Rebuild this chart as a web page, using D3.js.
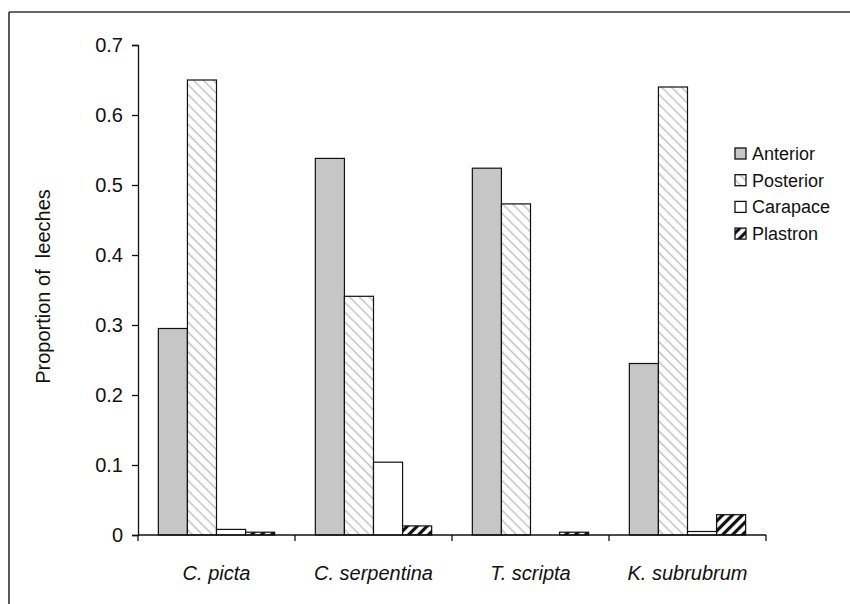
<!DOCTYPE html>
<html>
<head>
<meta charset="utf-8">
<script src="https://cdn.jsdelivr.net/npm/d3@7"></script>
<style>
  body { margin: 0; background: #fff; }
  text { font-family: "Liberation Sans", Arial, sans-serif; fill: #111; }
</style>
</head>
<body>
<svg id="chart" width="850" height="604"></svg>
<script>
// data
var species = ["C. picta", "C. serpentina", "T. scripta", "K. subrubrum"];
var regions = ["Anterior", "Posterior", "Carapace", "Plastron"];
var anterior = [0.295, 0.538, 0.524, 0.245];
var posterior = [0.65, 0.341, 0.473, 0.64];
var carapace = [0.008, 0.104, 0, 0.005];
var plastron = [0.004, 0.013, 0.004, 0.029];
var yTicks = [0, 0.1, 0.2, 0.3, 0.4, 0.5, 0.6, 0.7];

var series = [anterior, posterior, carapace, plastron];

var svg = d3.select("#chart");
var margin = { left: 138, right: 84, top: 45, bottom: 69 };
var W = 850, H = 604;

// frame (top + left lines only)
svg.append("line").attr("x1", 9).attr("x2", 850).attr("y1", 12).attr("y2", 12)
    .attr("stroke", "#333").attr("stroke-width", 1.5);
svg.append("line").attr("x1", 9).attr("x2", 9).attr("y1", 12).attr("y2", 604)
    .attr("stroke", "#222").attr("stroke-width", 1.5);

// patterns
var defs = svg.append("defs");
var hatch = defs.append("pattern").attr("id", "hatchPost")
    .attr("patternUnits", "userSpaceOnUse").attr("width", 7).attr("height", 7)
    .attr("patternTransform", "rotate(45)");
hatch.append("rect").attr("width", 7).attr("height", 7).attr("fill", "#fff");
hatch.append("line").attr("x1", 0).attr("x2", 7).attr("y1", 3.5).attr("y2", 3.5)
    .attr("stroke", "#bdbdbd").attr("stroke-width", 1.4);

var bold = defs.append("pattern").attr("id", "hatchPlas")
    .attr("patternUnits", "userSpaceOnUse").attr("width", 7).attr("height", 7)
    .attr("patternTransform", "rotate(-45)");
bold.append("rect").attr("width", 7).attr("height", 7).attr("fill", "#fff");
bold.append("line").attr("x1", 0).attr("x2", 7).attr("y1", 3.5).attr("y2", 3.5)
    .attr("stroke", "#111").attr("stroke-width", 3.2);

var fills = ["#c6c6c6", "url(#hatchPost)", "#ffffff", "url(#hatchPlas)"];

var x = d3.scaleBand().domain(species).range([margin.left, W - margin.right]).paddingInner(0).paddingOuter(0);
var xi = d3.scaleBand().domain(regions).range([0, x.bandwidth()]).paddingInner(0).paddingOuter(0.7);
var y = d3.scaleLinear().domain([0, 0.7]).range([H - margin.bottom, margin.top]);

// bars
species.forEach(function (sp, i) {
    var g = svg.append("g").attr("transform", "translate(" + x(sp) + ",0)");
    regions.forEach(function (r, k) {
        var v = series[k][i];
        if (v <= 0) return;
        g.append("rect")
            .attr("x", xi(r))
            .attr("y", y(v))
            .attr("width", xi.bandwidth())
            .attr("height", y(0) - y(v))
            .attr("fill", fills[k])
            .attr("stroke", "#111")
            .attr("stroke-width", 1.2);
    });
});

// y axis
var yAxis = svg.append("g").attr("transform", "translate(" + margin.left + ",0)")
    .call(d3.axisLeft(y).tickValues(yTicks).tickFormat(function (d) { return d === 0 ? "0" : d3.format(".1f")(d); })
        .tickSize(6).tickPadding(9));
yAxis.select(".domain").attr("stroke", "#111").attr("stroke-width", 1.3);
yAxis.selectAll(".tick line").attr("stroke", "#111").attr("stroke-width", 1.3);
yAxis.selectAll("text").style("font-size", "20px").attr("fill", "#111");

// x axis with ticks at category boundaries
var xAxis = svg.append("g").attr("transform", "translate(0," + y(0) + ")");
xAxis.append("line").attr("x1", margin.left).attr("x2", W - margin.right)
    .attr("stroke", "#111").attr("stroke-width", 1.3);
xAxis.selectAll(".ctick").data(species.concat(["end"])).join("line")
    .attr("class", "ctick")
    .attr("x1", function (d, i) { return i < species.length ? x(d) : x(species[species.length - 1]) + x.bandwidth(); })
    .attr("x2", function (d, i) { return i < species.length ? x(d) : x(species[species.length - 1]) + x.bandwidth(); })
    .attr("y1", 0).attr("y2", 6)
    .attr("stroke", "#111").attr("stroke-width", 1.3);
xAxis.selectAll(".clab").data(species).join("text")
    .attr("class", "clab")
    .attr("x", function (d) { return x(d) + x.bandwidth() / 2; })
    .attr("y", 45)
    .attr("text-anchor", "middle")
    .style("font-size", "20px")
    .style("font-style", "italic")
    .text(function (d) { return d; });

// y label
svg.append("text")
    .attr("transform", "translate(50," + (y(0.355)) + ") rotate(-90)")
    .attr("text-anchor", "middle")
    .attr("xml:space", "preserve")
    .style("white-space", "pre")
    .style("font-size", "20px")
    .text("Proportion of  leeches");

// legend
var legend = svg.append("g").attr("transform", "translate(735,148)");
regions.forEach(function (r, k) {
    var row = legend.append("g").attr("transform", "translate(0," + (k * 26.7) + ")");
    row.append("rect").attr("width", 11).attr("height", 11)
        .attr("fill", fills[k]).attr("stroke", "#111").attr("stroke-width", 1.3);
    row.append("text").attr("x", 17).attr("y", 12).style("font-size", "18px").text(r);
});
</script>
</body>
</html>
